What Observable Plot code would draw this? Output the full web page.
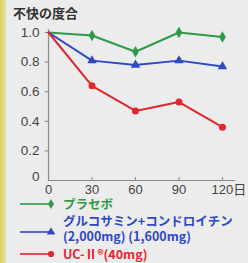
<!DOCTYPE html>
<html><head><meta charset="utf-8">
<script src="https://cdn.jsdelivr.net/npm/d3@7"></script>
<script src="https://cdn.jsdelivr.net/npm/@observablehq/plot@0.6"></script>
<style>
body{margin:0;background:#ececec;width:248px;height:263px;overflow:hidden;position:relative;font-family:"Liberation Sans","Noto Sans CJK JP",sans-serif;}
#strip{position:absolute;left:0;top:0;width:6px;height:263px;background:linear-gradient(to right,#d8d266,#e6e3a0);}
#title{position:absolute;left:13px;top:3px;font-size:13px;font-weight:bold;color:#333;font-family:"Noto Sans CJK JP",sans-serif;}
#chart{position:absolute;left:0;top:0;}
#legend{position:absolute;left:0;top:0;width:248px;}
.row{position:absolute;left:20px;display:flex;align-items:flex-start;font-family:"Noto Sans CJK JP","Liberation Sans",sans-serif;font-weight:bold;font-size:12.5px;line-height:14px;}
.row svg{flex:none;margin-right:8px;}
</style></head>
<body>
<div id="strip"></div>
<div id="chart"></div>
<div id="title">不快の度合</div>
<div id="legend"></div>
<script>
const days = [0, 30, 60, 90, 120];
const placebo = [1.0, 0.98, 0.87, 1.0, 0.97];
const gluco = [1.0, 0.81, 0.78, 0.81, 0.77];
const uc2 = [1.0, 0.64, 0.47, 0.53, 0.36];
const seriesNames = ["プラセボ", "グルコサミン+コンドロイチン\n(2,000mg) (1,600mg)", "UC-Ⅱ®(40mg)"];
const seriesColors = ["#2f9a48", "#2f48c4", "#e0262f"];
const seriesSymbols = ["diamond", "triangle", "circle"];
const xTicks = [0, 30, 60, 90, 120];
const xTickLabels = ["0", "30", "60", "90", "120日"];
const yTicks = [0, 0.2, 0.4, 0.6, 0.8, 1.0];

const vals = [placebo, gluco, uc2];
const data = [];
vals.forEach((arr, s) => arr.forEach((v, i) => data.push({series: s, day: days[i], value: v})));
const pts = data.filter(d => d.day > 0);
const xl = xTicks.map((t, i) => ({t, label: xTickLabels[i]}));

const chart = Plot.plot({
  width: 248, height: 200,
  marginLeft: 48, marginRight: 13, marginTop: 32, marginBottom: 20,
  style: {background: "transparent", fontFamily: '"Liberation Sans","Noto Sans CJK JP",sans-serif'},
  x: {domain: [0, 129], axis: null},
  y: {domain: [0, 1], axis: null},
  marks: [
    Plot.ruleY([0], {x1: 0, x2: 129, stroke: "#888", strokeWidth: 1.2}),
    Plot.ruleX([0], {y1: 0, y2: 1.02, stroke: "#888", strokeWidth: 1.2}),
    Plot.ruleX(xTicks.slice(1), {y1: 0, y2: 0.02, stroke: "#888"}),
    Plot.ruleY(yTicks.slice(1), {x1: -2.3, x2: 0, stroke: "#888"}),
    Plot.text(xl.slice(0, 4), {x: "t", y: () => 0, text: "label", dy: 9, fontSize: 13, fill: "#444", textAnchor: "middle"}),
    Plot.text(xl.slice(4), {x: "t", y: () => 0, text: "label", dy: 9, dx: -11, fontSize: 13, fill: "#444", textAnchor: "start"}),
    Plot.text(yTicks.slice(1), {x: () => 0, y: d => d, text: d => d.toFixed(1), dx: -9, textAnchor: "end", fontSize: 13.5, fill: "#444"}),
    Plot.text([0], {x: () => 0, y: () => 0, text: () => "0", dx: -9, dy: -4, textAnchor: "end", fontSize: 13.5, fill: "#444"}),
    Plot.line(data, {x: "day", y: "value", z: "series", stroke: d => seriesColors[d.series], strokeWidth: 2}),
    Plot.dot(pts, {x: "day", y: "value", symbol: d => seriesSymbols[d.series], fill: d => seriesColors[d.series], r: 3.5})
  ]
});
document.getElementById("chart").appendChild(chart);

const legend = document.getElementById("legend");
const rowTops = [197, 213, 247];
const markerYs = [7, 19, 7];
seriesNames.forEach((name, i) => {
  const row = document.createElement("div");
  row.className = "row";
  row.style.top = rowTops[i] + "px";
  row.style.color = seriesColors[i];
  const h = i === 1 ? 30 : 14;
  const svg = d3.create("svg").attr("width", 35).attr("height", h);
  const my = markerYs[i];
  svg.append("line").attr("x1", 0).attr("x2", 31).attr("y1", my).attr("y2", my).attr("stroke", seriesColors[i]).attr("stroke-width", 1.6);
  const sym = {diamond: d3.symbolDiamond, triangle: d3.symbolTriangle, circle: d3.symbolCircle}[seriesSymbols[i]];
  svg.append("path").attr("d", d3.symbol(sym, 30)).attr("transform", `translate(31,${my})`).attr("fill", seriesColors[i]);
  row.appendChild(svg.node());
  const t = document.createElement("div");
  t.style.lineHeight = i === 1 ? "15px" : "14px";
  t.innerHTML = name.replace("\n", "<br>");
  row.appendChild(t);
  legend.appendChild(row);
});
</script>
</body></html>
